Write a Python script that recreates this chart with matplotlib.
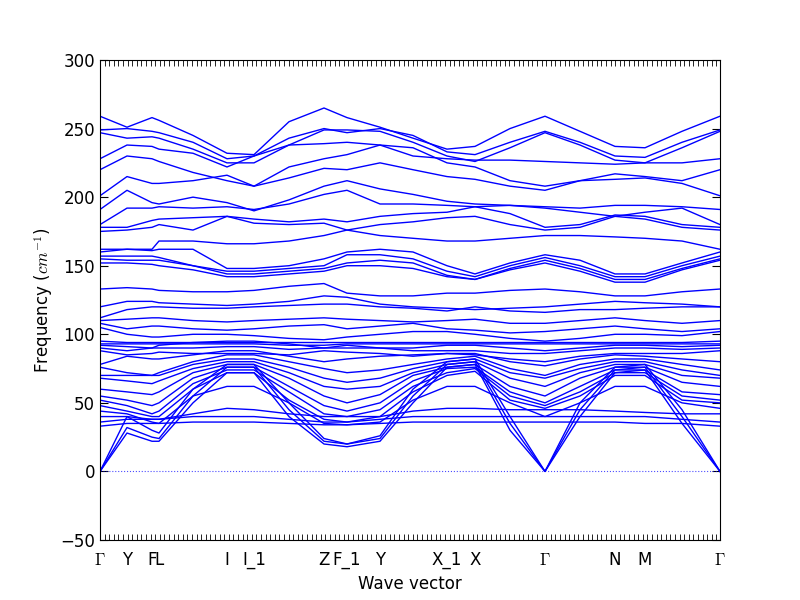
import matplotlib
matplotlib.use('Agg')
import matplotlib.pyplot as plt
import numpy as np

plt.rcParams['mathtext.fontset'] = 'cm'

# high symmetry points (path distance) and labels
sym_k = [0, 27, 52, 59, 127, 154, 224, 247, 280, 347, 375, 445, 515, 545, 620]
sym_labels = [r'$\Gamma$', 'Y', 'F', 'L', 'I', 'I_1', 'Z', 'F_1', 'Y', 'X_1', 'X',
              r'$\Gamma$', 'N', 'M', r'$\Gamma$']

# k positions where band values were read
k = [0, 27, 52, 59, 93, 127, 154, 189, 224, 247, 280, 313, 347, 375, 410, 445,
     480, 515, 545, 582, 620]

bands = [
    [259, 251, 258, 256, 245, 232, 231, 255, 265, 258, 251, 243, 235, 237, 250, 259, 248, 237, 236, 248, 259],
    [249, 250, 248, 247, 240, 228, 230, 243, 250, 247, 250, 245, 233, 231, 240, 248, 240, 230, 229, 240, 249],
    [247, 243, 244, 243, 235, 225, 225, 238, 249, 249, 248, 240, 230, 226, 236, 247, 238, 227, 225, 236, 248],
    [228, 238, 237, 235, 232, 222, 230, 238, 239, 240, 238, 230, 228, 227, 227, 226, 225, 224, 225, 225, 228],
    [220, 230, 228, 226, 218, 212, 208, 222, 228, 231, 238, 236, 225, 222, 212, 208, 212, 217, 215, 212, 220],
    [201, 215, 210, 210, 212, 216, 208, 214, 221, 220, 225, 220, 215, 213, 208, 205, 212, 213, 214, 210, 201],
    [191, 205, 196, 195, 200, 196, 190, 198, 208, 212, 206, 202, 197, 195, 194, 193, 192, 194, 194, 193, 191],
    [180, 192, 192, 193, 192, 193, 191, 195, 202, 205, 195, 195, 194, 193, 194, 192, 189, 186, 189, 192, 180],
    [178, 178, 183, 184, 185, 186, 184, 182, 184, 182, 186, 188, 189, 193, 188, 178, 180, 187, 186, 180, 178],
    [175, 176, 178, 180, 176, 186, 181, 180, 181, 176, 180, 182, 185, 186, 180, 176, 178, 186, 184, 178, 176],
    [162, 162, 162, 168, 168, 166, 166, 168, 172, 176, 172, 170, 168, 168, 170, 172, 172, 171, 170, 168, 162],
    [160, 162, 161, 162, 162, 148, 148, 150, 155, 160, 162, 160, 150, 144, 152, 158, 154, 144, 144, 152, 160],
    [157, 157, 157, 156, 150, 146, 146, 148, 150, 158, 158, 155, 146, 142, 150, 156, 150, 142, 142, 150, 157],
    [155, 154, 154, 154, 150, 144, 144, 146, 148, 152, 154, 152, 143, 140, 148, 154, 148, 140, 140, 148, 155],
    [152, 152, 151, 150, 147, 142, 142, 144, 146, 150, 150, 148, 142, 140, 147, 152, 146, 138, 138, 147, 154],
    [133, 134, 133, 132, 131, 131, 132, 135, 137, 130, 128, 128, 130, 130, 132, 133, 131, 128, 128, 131, 133],
    [120, 124, 124, 123, 122, 121, 122, 124, 128, 127, 122, 120, 119, 118, 119, 120, 122, 124, 123, 122, 120],
    [112, 118, 120, 120, 119, 119, 120, 121, 122, 122, 120, 119, 117, 120, 117, 116, 118, 118, 119, 120, 120],
    [110, 111, 112, 112, 110, 109, 110, 111, 112, 111, 110, 109, 110, 111, 108, 108, 110, 112, 110, 108, 110],
    [108, 104, 106, 106, 104, 103, 104, 106, 107, 104, 106, 108, 104, 103, 101, 102, 104, 106, 104, 102, 104],
    [105, 100, 98, 98, 100, 100, 99, 97, 96, 98, 100, 102, 102, 100, 97, 95, 97, 100, 100, 99, 102],
    [95, 94, 94, 94, 94, 94, 94, 94, 94, 94, 94, 94, 94, 94, 94, 94, 94, 94, 94, 94, 95],
    [93, 93, 93, 93, 93, 93, 93, 92, 92, 93, 93, 93, 93, 93, 93, 93, 93, 93, 93, 93, 93],
    [92, 91, 90, 92, 94, 95, 95, 93, 90, 92, 90, 90, 92, 92, 90, 88, 90, 92, 92, 91, 92],
    [90, 88, 90, 90, 90, 91, 91, 89, 90, 90, 90, 88, 88, 88, 86, 86, 88, 90, 90, 89, 90],
    [88, 85, 86, 87, 86, 86, 86, 85, 88, 87, 86, 84, 86, 85, 82, 80, 84, 86, 86, 86, 88],
    [78, 84, 82, 82, 85, 88, 88, 84, 80, 82, 84, 85, 86, 86, 80, 77, 82, 85, 84, 82, 80],
    [76, 72, 70, 72, 80, 85, 85, 80, 75, 72, 74, 78, 82, 84, 75, 70, 78, 82, 82, 78, 74],
    [70, 70, 70, 70, 78, 82, 82, 76, 68, 65, 68, 75, 80, 82, 72, 68, 75, 80, 80, 74, 70],
    [68, 66, 64, 66, 75, 80, 80, 72, 62, 60, 62, 72, 78, 80, 68, 62, 72, 78, 78, 70, 68],
    [60, 58, 56, 58, 72, 78, 78, 68, 55, 50, 56, 70, 76, 78, 62, 55, 68, 76, 76, 65, 62],
    [55, 52, 48, 50, 68, 76, 76, 62, 48, 44, 50, 66, 75, 76, 58, 50, 62, 74, 74, 58, 56],
    [52, 48, 42, 44, 64, 74, 74, 58, 42, 40, 45, 62, 72, 75, 55, 48, 58, 72, 72, 55, 52],
    [48, 44, 40, 40, 60, 72, 72, 52, 38, 36, 40, 58, 70, 73, 52, 46, 55, 70, 70, 52, 50],
    [44, 42, 36, 35, 55, 62, 62, 50, 35, 34, 36, 52, 62, 62, 50, 40, 50, 62, 62, 50, 46],
    [40, 40, 38, 38, 42, 46, 45, 42, 40, 40, 40, 44, 46, 46, 45, 45, 45, 44, 43, 42, 42],
    [36, 38, 38, 38, 40, 40, 40, 38, 36, 36, 38, 40, 40, 40, 40, 40, 40, 40, 40, 38, 36],
    [33, 35, 35, 35, 36, 36, 36, 35, 34, 34, 35, 36, 36, 36, 36, 36, 36, 36, 35, 35, 33],
    # acoustic branches
    [0, 40, 30, 28, 60, 78, 78, 50, 24, 20, 26, 60, 80, 82, 40, 0, 50, 76, 78, 45, 0],
    [0, 32, 25, 24, 55, 76, 76, 45, 22, 20, 24, 55, 78, 80, 35, 0, 45, 74, 76, 40, 0],
    [0, 28, 22, 22, 50, 72, 72, 40, 20, 18, 22, 50, 76, 78, 30, 0, 40, 72, 74, 35, 0],
]

fig = plt.figure(figsize=(8, 6), dpi=100)
ax = fig.add_axes([0.125, 0.1, 0.775, 0.8])

for b in bands:
    ax.plot(k, b, color='blue', linewidth=1)

ax.axhline(0, color='blue', linestyle=':', linewidth=0.8, alpha=0.7)

ax.set_xlim(0, 620)
ax.set_ylim(-50, 300)
ax.set_yticks(np.arange(-50, 301, 50))
ax.set_xticks(sym_k)
ax.set_xticklabels(sym_labels, fontsize=12)
ax.tick_params(axis='x', which='major', length=0, pad=8)
ax.set_xticks(np.arange(0, 620, 4.6), minor=True)
ax.tick_params(axis='x', which='minor', direction='in', length=4, top=True, bottom=True)
ax.tick_params(axis='y', direction='in', length=6, right=True, labelsize=12)

ax.set_xlabel('Wave vector', fontsize=12)
ax.set_ylabel(r'Frequency ($cm^{-1}$)', fontsize=12)

plt.savefig('out.png', dpi=100)
